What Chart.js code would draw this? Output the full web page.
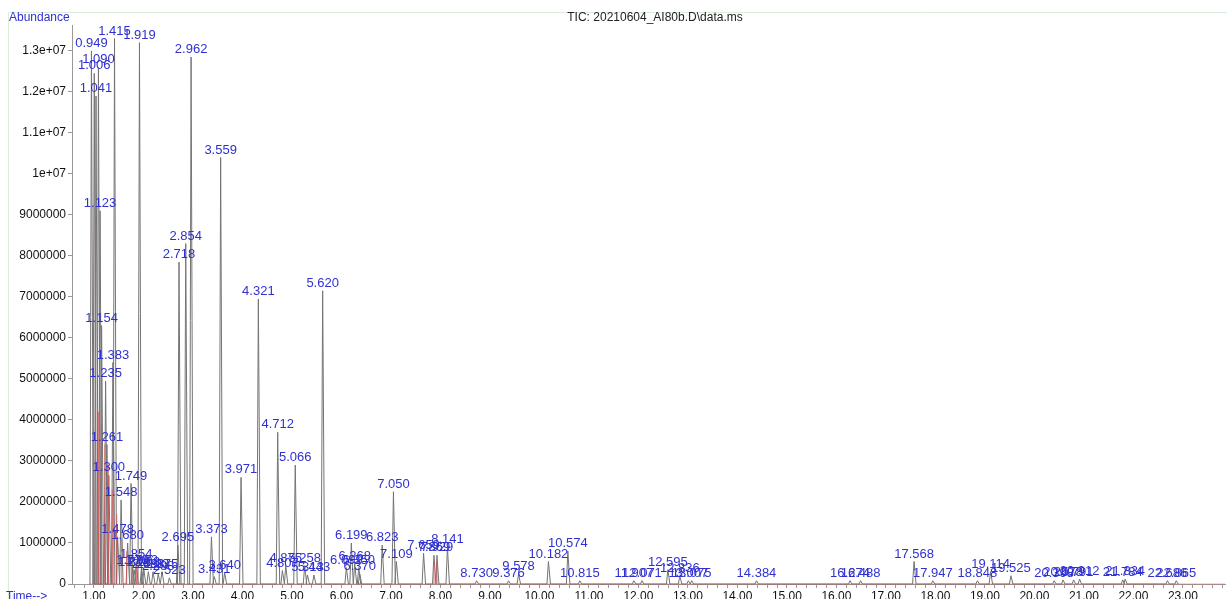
<!DOCTYPE html>
<html>
<head>
<meta charset="utf-8">
<script src="https://cdn.jsdelivr.net/npm/chart.js@4.4.1/dist/chart.umd.min.js"></script>
<style>
  html, body { margin: 0; padding: 0; background: #fff; }
  #wrap { width: 1227px; height: 599px; }
</style>
</head>
<body>
<div id="wrap"><canvas id="tic"></canvas></div>
<script>
const peakTimes = [
  0.949, 1.006, 1.041, 1.090, 1.123, 1.154, 1.235, 1.261, 1.300, 1.383,
  1.415, 1.478, 1.548, 1.680, 1.749, 1.779, 1.812, 1.854, 1.919, 1.962,
  2.008, 2.098, 2.193, 2.298, 2.375, 2.523, 2.695, 2.718, 2.854, 2.962,
  3.373, 3.431, 3.559, 3.640, 3.971, 4.321, 4.712, 4.807, 4.875, 5.066,
  5.258, 5.313, 5.443, 5.620, 6.099, 6.199, 6.268, 6.350, 6.370, 6.823,
  7.050, 7.109, 7.659, 7.869, 7.929, 8.141, 8.730, 9.376, 9.578, 10.182,
  10.574, 10.815, 11.907, 12.071, 12.595, 12.836, 13.007, 13.075, 14.384, 16.274,
  16.488, 17.568, 17.947, 18.848, 19.114, 19.525, 20.398, 20.578, 20.791, 20.912,
  21.784, 21.834, 22.686, 22.865
];
const peakHeights = [
  13000000, 12450000, 11900000, 12600000, 9100000, 6300000, 4950000, 3400000, 2650000, 5400000,
  13300000, 1150000, 2050000, 1000000, 2450000, 400000, 350000, 550000, 13200000, 400000,
  350000, 300000, 300000, 250000, 300000, 150000, 950000, 7850000, 8300000, 12850000,
  1150000, 180000, 10400000, 280000, 2600000, 6950000, 3700000, 330000, 450000, 2900000,
  450000, 220000, 220000, 7150000, 400000, 1000000, 500000, 400000, 250000, 950000,
  2250000, 550000, 750000, 700000, 700000, 900000, 80000, 80000, 250000, 550000,
  800000, 80000, 80000, 80000, 350000, 200000, 80000, 80000, 80000, 80000,
  80000, 550000, 80000, 80000, 300000, 200000, 80000, 100000, 100000, 120000,
  100000, 120000, 80000, 80000
];

// red integration marks in the early part of the run
const redMarkTimes = [0.99, 1.03, 1.09, 1.15, 1.22, 1.29, 1.37, 1.46, 1.56, 1.66, 1.76, 1.86, 7.87, 7.93];
const redMarkHeights = [3800000, 8900000, 4200000, 3900000, 3400000, 2900000, 2300000, 1700000, 1100000, 800000, 550000, 400000, 550000, 550000];

const xMajorTicks = [1, 2, 3, 4, 5, 6, 7, 8, 9, 10, 11, 12, 13, 14, 15, 16, 17, 18, 19, 20, 21, 22, 23];
const yTicks = [0, 1000000, 2000000, 3000000, 4000000, 5000000, 6000000, 7000000, 8000000, 9000000, 10000000, 11000000, 12000000, 13000000];

const xMin = 0.556, xMax = 23.85, yMax = 13630000;

// peak outline: baseline - apex - baseline
const ticPoints = [];
peakTimes.forEach((t, i) => {
  ticPoints.push({ x: t - 0.03, y: 0 });
  ticPoints.push({ x: t, y: peakHeights[i] });
  ticPoints.push({ x: t + 0.04, y: 0 });
});

const redPoints = [{ x: 0.9, y: 0 }];
redMarkTimes.forEach((t, i) => {
  redPoints.push({ x: t, y: 0 });
  redPoints.push({ x: t, y: redMarkHeights[i] });
  redPoints.push({ x: t, y: 0 });
});
redPoints.push({ x: xMax, y: 0 });

const minorTicks = [];
for (let k = 3; k <= 119; k++) minorTicks.push(+(k * 0.2).toFixed(1));

const labelColor = "#3030d0";

const textPlugin = {
  id: "ticText",
  beforeDraw(chart) {
    const ctx = chart.ctx;
    ctx.save();
    ctx.strokeStyle = "#dcebdc";
    ctx.lineWidth = 1;
    ctx.beginPath();
    ctx.moveTo(8.5, 600);
    ctx.lineTo(8.5, 12.5);
    ctx.lineTo(1227, 12.5);
    ctx.stroke();
    ctx.restore();
  },
  afterDatasetsDraw(chart) {
    const ctx = chart.ctx;
    const xs = chart.scales.x, ys = chart.scales.y;
    ctx.save();
    ctx.font = "13px 'Liberation Sans', Arial, sans-serif";
    ctx.fillStyle = labelColor;
    ctx.textAlign = "center";
    ctx.textBaseline = "bottom";
    peakTimes.forEach((t, i) => {
      ctx.fillText(t.toFixed(3), xs.getPixelForValue(t), ys.getPixelForValue(peakHeights[i]) - 1);
    });
    ctx.font = "12px 'Liberation Sans', Arial, sans-serif";
    ctx.textBaseline = "middle";
    ctx.textAlign = "left";
    ctx.fillText("Abundance", 9, 18);
    ctx.fillText("Time-->", 6, 597);
    ctx.fillStyle = "#222";
    ctx.textAlign = "center";
    ctx.fillText("TIC: 20210604_AI80b.D\\data.ms", 655, 18);
    ctx.restore();
  }
};

new Chart(document.getElementById("tic"), {
  type: "line",
  data: {
    datasets: [
      {
        label: "red",
        data: redPoints,
        borderColor: "rgba(228,80,80,0.6)",
        borderWidth: 0.8,
        pointRadius: 0,
        tension: 0,
        clip: { left: 0, top: 0, right: 0, bottom: 2 }
      },
      {
        label: "TIC",
        data: ticPoints,
        borderColor: "#747474",
        borderWidth: 1,
        pointRadius: 0,
        tension: 0,
        clip: { left: 0, top: 0, right: 0, bottom: 2 }
      }
    ]
  },
  options: {
    responsive: true,
    maintainAspectRatio: false,
    animation: false,
    layout: { padding: { top: 25, right: 2, left: 0, bottom: 0 } },
    plugins: {
      legend: { display: false },
      tooltip: { enabled: false }
    },
    scales: {
      x: {
        type: "linear",
        min: xMin,
        max: xMax,
        afterBuildTicks: (scale) => {
          scale.ticks = minorTicks.map(v => ({ value: v }));
        },
        afterFit: (scale) => { scale.height = 15; },
        ticks: {
          autoSkip: false,
          maxRotation: 0,
          padding: 1,
          color: "#111",
          font: { size: 12, family: "'Liberation Sans', Arial, sans-serif" },
          callback: (v) => xMajorTicks.includes(Math.round(v)) && Math.abs(v - Math.round(v)) < 1e-6 ? v.toFixed(2) : ""
        },
        grid: { drawOnChartArea: false, tickLength: 4, color: "#999" },
        border: { color: "#999" }
      },
      y: {
        min: 0,
        max: yMax,
        afterBuildTicks: (scale) => {
          scale.ticks = yTicks.map(v => ({ value: v }));
        },
        afterFit: (scale) => { scale.width = 72; },
        ticks: {
          padding: 2,
          color: "#111",
          font: { size: 12, family: "'Liberation Sans', Arial, sans-serif" },
          callback: (v) => v < 10000000 ? String(v) : (v / 10000000) + "e+07"
        },
        grid: { drawOnChartArea: false, tickLength: 4, color: "#999" },
        border: { color: "#999" }
      }
    }
  },
  plugins: [textPlugin]
});
</script>
</body>
</html>
